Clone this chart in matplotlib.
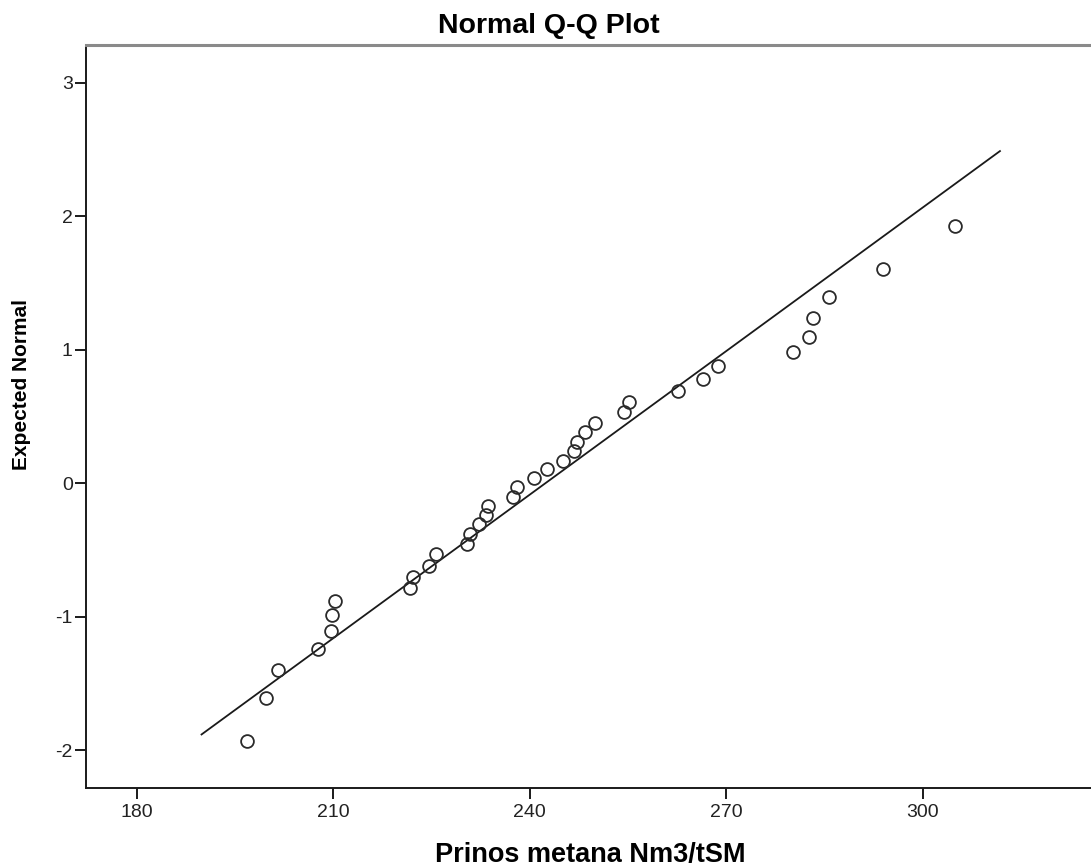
import matplotlib
matplotlib.use("Agg")
import matplotlib.pyplot as plt
import numpy as np

# values
prinos = [196.8, 199.7, 201.6, 207.7, 209.7, 209.8, 210.3, 221.8, 222.2, 224.6,
          225.7, 230.5, 230.9, 232.3, 233.4, 233.7, 237.5, 238.1, 240.7, 242.6,
          245.1, 246.7, 247.3, 248.4, 249.9, 254.4, 255.1, 262.7, 266.4, 268.8,
          280.2, 282.6, 283.2, 285.7, 293.9, 304.9]
expected = [-1.931, -1.607, -1.399, -1.242, -1.107, -0.987, -0.882, -0.787, -0.700, -0.618,
            -0.530, -0.458, -0.383, -0.308, -0.238, -0.169, -0.101, -0.031, 0.037, 0.104,
            0.169, 0.241, 0.311, 0.381, 0.453, 0.531, 0.610, 0.693, 0.783, 0.878,
            0.981, 1.097, 1.235, 1.397, 1.604, 1.927]

# reference line
mean_x = 242.4
sd_x = 27.9
line_x = [189.9, 311.8]

x_ticks = [180, 210, 240, 270, 300]
y_ticks = [-2, -1, 0, 1, 2, 3]

plt.rcParams['font.family'] = ['Liberation Sans', 'DejaVu Sans']
plt.rcParams['axes.unicode_minus'] = False

fig = plt.figure(figsize=(10.91, 8.66), dpi=100)
ax = fig.add_axes([86 / 1091, 78.5 / 866, 1005 / 1091, 742.5 / 866])

lx = np.array(line_x)
ax.plot(lx, (lx - mean_x) / sd_x, color='#1a1a1a', lw=1.3, zorder=2)
ax.plot(prinos, expected, 'o', ms=9.2, mfc='none', mec='#2a2a2a', mew=1.3, zorder=3)

ax.set_xlim(172.26, 325.7)
ax.set_ylim(-2.279, 3.282)
ax.set_xticks(x_ticks)
ax.set_yticks(y_ticks)

ax.spines['right'].set_visible(False)
ax.spines['top'].set_color('#8a8a8a')
ax.spines['top'].set_linewidth(2.2)
for s in ['left', 'bottom']:
    ax.spines[s].set_color('#1a1a1a')
    ax.spines[s].set_linewidth(1.4)

ax.tick_params(axis='both', direction='out', length=8, width=1.4, color='#1a1a1a',
               labelsize=14, labelcolor='#222222')
ax.tick_params(axis='y', pad=1.5)
ax.tick_params(axis='x', pad=4)

ax.set_xlabel('Prinos metana Nm3/tSM', fontsize=19.5, fontweight='bold', va='center')
ax.xaxis.set_label_coords(0.502, -0.0905)
ax.set_ylabel('Expected Normal', fontsize=15, fontweight='bold', va='center')
ax.yaxis.set_label_coords(-0.0637, 0.543)
fig.text(0.503, 0.970, 'Normal Q-Q Plot', ha='center', va='center',
         fontsize=20.5, fontweight='bold')

fig.savefig('out.png', dpi=100)
